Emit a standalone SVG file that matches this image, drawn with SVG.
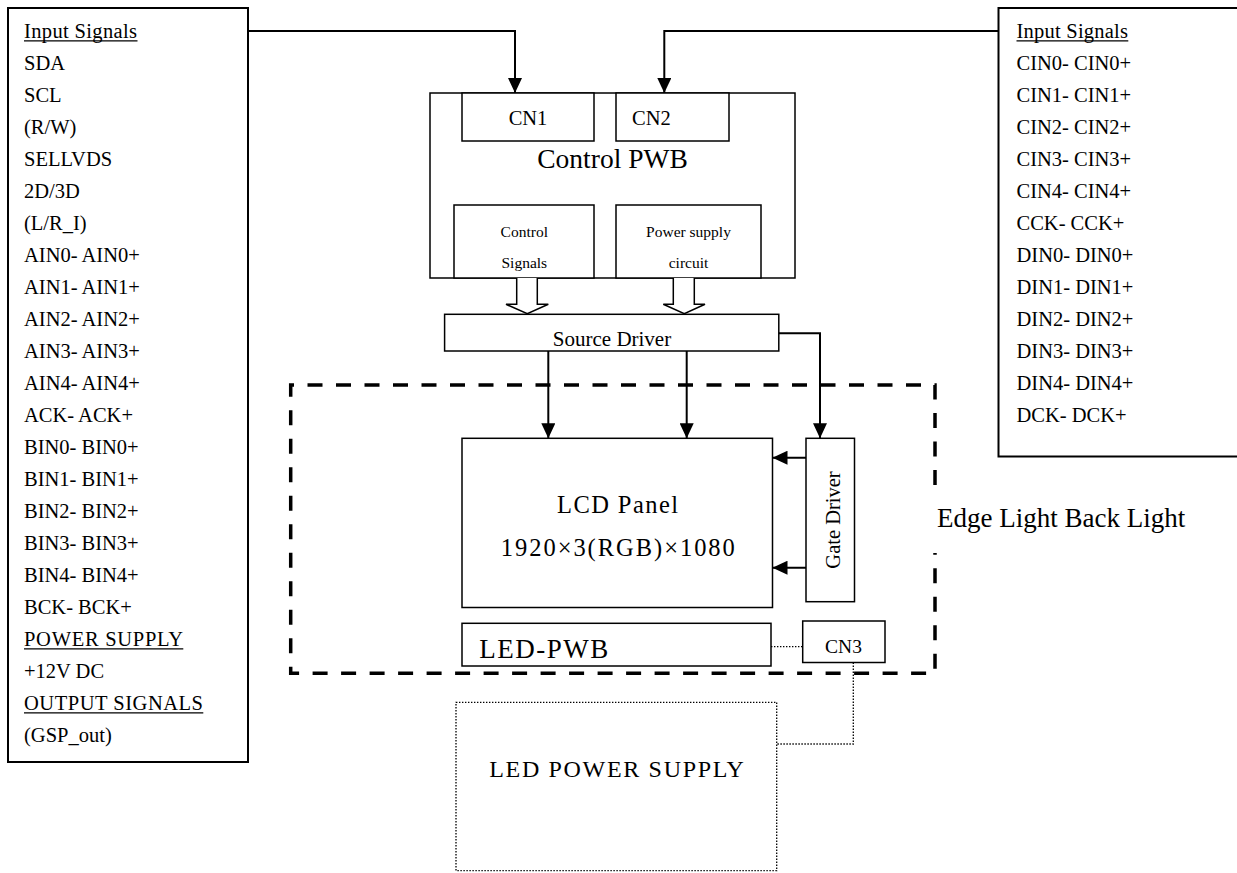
<svg xmlns="http://www.w3.org/2000/svg" width="1237" height="873" viewBox="0 0 1237 873">
<defs>
<style>
text{font-family:"Liberation Serif","Times New Roman",serif;fill:#000}
.lst{font-size:20.5px}
.box{fill:#fff;stroke:#000;stroke-width:1.5}
.big{fill:#fff;stroke:#000;stroke-width:2}
.con{fill:none;stroke:#000;stroke-width:2}
.dot{fill:none;stroke:#000;stroke-width:1.3;stroke-dasharray:1.4 1.6}
.dash{fill:none;stroke:#000;stroke-width:3.5;stroke-dasharray:15 13.5}
.ul{stroke:#000;stroke-width:1.2}
.mid{text-anchor:middle}
</style>
<marker id="ah" markerUnits="userSpaceOnUse" markerWidth="15" markerHeight="14" refX="15" refY="7" orient="auto">
<path d="M0,0 L15,7 L0,14 z" fill="#000"/>
</marker>
</defs>
<rect width="1237" height="873" fill="#fff"/>

<g id="left-signals">
<rect class="big" x="8" y="8" width="240" height="754"/>
<g class="lst">
<text x="24" y="38.3" textLength="113" lengthAdjust="spacing">Input Signals</text>
<text x="24" y="70.3">SDA</text>
<text x="24" y="102.3">SCL</text>
<text x="24" y="134.3">(R/W)</text>
<text x="24" y="166.3">SELLVDS</text>
<text x="24" y="198.3">2D/3D</text>
<text x="24" y="230.3">(L/R_I)</text>
<text x="24" y="262.3">AIN0- AIN0+</text>
<text x="24" y="294.3">AIN1- AIN1+</text>
<text x="24" y="326.3">AIN2- AIN2+</text>
<text x="24" y="358.3">AIN3- AIN3+</text>
<text x="24" y="390.3">AIN4- AIN4+</text>
<text x="24" y="422.3">ACK- ACK+</text>
<text x="24" y="454.3">BIN0- BIN0+</text>
<text x="24" y="486.3">BIN1- BIN1+</text>
<text x="24" y="518.3">BIN2- BIN2+</text>
<text x="24" y="550.3">BIN3- BIN3+</text>
<text x="24" y="582.3">BIN4- BIN4+</text>
<text x="24" y="614.3">BCK- BCK+</text>
<text x="24" y="646.3" textLength="159" lengthAdjust="spacing">POWER SUPPLY</text>
<text x="24" y="678.3">+12V DC</text>
<text x="24" y="710.3" textLength="179" lengthAdjust="spacing">OUTPUT SIGNALS</text>
<text x="24" y="742.3">(GSP_out)</text>
</g>
<line class="ul" x1="24" y1="40.8" x2="137.5" y2="40.8"/>
<line class="ul" x1="24" y1="648.8" x2="183.3" y2="648.8"/>
<line class="ul" x1="24" y1="712.8" x2="203.3" y2="712.8"/>
</g>

<g id="right-signals">
<rect class="big" x="998.5" y="8" width="250" height="448.5"/>
<g class="lst">
<text x="1016.5" y="38.3" textLength="111.5" lengthAdjust="spacing">Input Signals</text>
<text x="1016.5" y="70.3">CIN0- CIN0+</text>
<text x="1016.5" y="102.3">CIN1- CIN1+</text>
<text x="1016.5" y="134.3">CIN2- CIN2+</text>
<text x="1016.5" y="166.3">CIN3- CIN3+</text>
<text x="1016.5" y="198.3">CIN4- CIN4+</text>
<text x="1016.5" y="230.3">CCK- CCK+</text>
<text x="1016.5" y="262.3">DIN0- DIN0+</text>
<text x="1016.5" y="294.3">DIN1- DIN1+</text>
<text x="1016.5" y="326.3">DIN2- DIN2+</text>
<text x="1016.5" y="358.3">DIN3- DIN3+</text>
<text x="1016.5" y="390.3">DIN4- DIN4+</text>
<text x="1016.5" y="422.3">DCK- DCK+</text>
</g>
<line class="ul" x1="1016.5" y1="40.8" x2="1128.3" y2="40.8"/>
</g>

<g id="backlight-area">
<path class="dash" d="M935,485 V385 H290.7 V673.3 H935 V553"/>
<text x="937" y="527" style="font-size:27px">Edge Light Back Light</text>
</g>

<g id="control-pwb">
<rect class="box" x="430" y="93" width="365" height="185"/>
<text class="mid" x="612.5" y="168" style="font-size:27.5px">Control PWB</text>
</g>
<g id="cn1">
<rect class="box" x="462" y="93" width="132" height="48"/>
<text class="mid" x="528" y="125" style="font-size:20.5px">CN1</text>
</g>
<g id="cn2">
<rect class="box" x="616" y="93" width="113" height="48"/>
<text x="632" y="125" style="font-size:20.5px">CN2</text>
</g>
<g id="control-signals">
<rect class="box" x="454" y="205" width="140" height="73"/>
<text class="mid" x="524.3" y="237" style="font-size:15.5px">Control</text>
<text class="mid" x="524.3" y="268" style="font-size:15.5px">Signals</text>
</g>
<g id="power-supply-circuit">
<rect class="box" x="616" y="205" width="145" height="73"/>
<text class="mid" x="688.5" y="237" style="font-size:15.5px">Power supply</text>
<text class="mid" x="688.5" y="268" style="font-size:15.5px">circuit</text>
</g>
<g id="source-driver">
<rect class="box" x="444.6" y="314.3" width="334.2" height="36.7"/>
<text class="mid" x="612" y="346" style="font-size:21px">Source Driver</text>
</g>
<g id="lcd-panel">
<rect class="box" x="462" y="438.3" width="310.5" height="169.2"/>
<text class="mid" x="617.5" y="513" style="font-size:24.5px" textLength="121" lengthAdjust="spacing">LCD Panel</text>
<text class="mid" x="617.8" y="556" style="font-size:24.5px" textLength="234" lengthAdjust="spacing">1920×3(RGB)×1080</text>
</g>
<g id="gate-driver">
<rect class="box" x="806" y="438.3" width="48.5" height="163.4"/>
<text class="mid" transform="translate(840,520) rotate(-90)" style="font-size:20.5px">Gate Driver</text>
</g>
<g id="led-pwb">
<rect class="box" x="462" y="623.3" width="309" height="42.7"/>
<text x="479.3" y="657.5" style="font-size:27px" textLength="129" lengthAdjust="spacing">LED-PWB</text>
</g>
<g id="cn3">
<rect class="box" x="802.7" y="621" width="82.3" height="41.5"/>
<text class="mid" x="843.5" y="652.7" style="font-size:19.5px">CN3</text>
</g>
<g id="led-power-supply">
<rect class="dot" x="456" y="702.3" width="320.7" height="168.4"/>
<text class="mid" x="616.6" y="777.3" style="font-size:24px" textLength="254.7" lengthAdjust="spacing">LED POWER SUPPLY</text>
</g>

<g id="connectors">
<path class="con" d="M248,31 H515 V93" marker-end="url(#ah)"/>
<path class="con" d="M998.5,31 H664.3 V93" marker-end="url(#ah)"/>
<path fill="#fff" stroke="#000" stroke-width="1.5" d="M516.7,278 V304.3 H506 L527.3,313.8 L548.3,304.3 H537.3 V278"/>
<path fill="#fff" stroke="#000" stroke-width="1.5" d="M673.3,278 V304.3 H663.3 L684.3,313.8 L705,304.3 H694.3 V278"/>
<path class="con" d="M548.3,351 V438.3" marker-end="url(#ah)"/>
<path class="con" d="M686.7,351 V438.3" marker-end="url(#ah)"/>
<path class="con" d="M778.8,333.3 H820 V438.3" marker-end="url(#ah)"/>
<path class="con" d="M806,457.7 H772.5" marker-end="url(#ah)"/>
<path class="con" d="M806,567.7 H772.5" marker-end="url(#ah)"/>
<path class="dot" d="M771,646.7 H802.7"/>
<path class="dot" d="M853.3,662.5 V744 H776.7"/>
</g>
</svg>
